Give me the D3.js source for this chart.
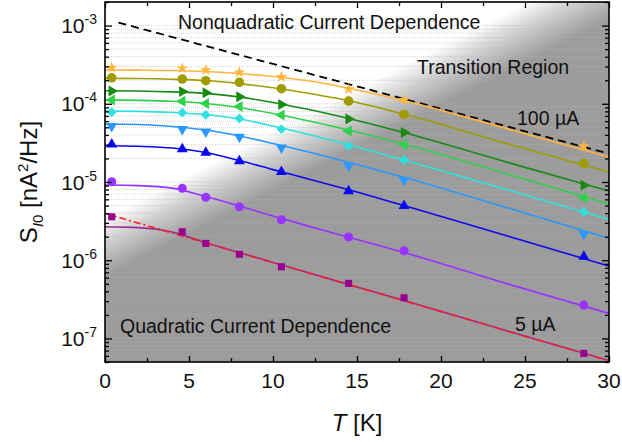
<!DOCTYPE html>
<html>
<head>
<meta charset="utf-8">
<script src="https://cdn.jsdelivr.net/npm/d3@7"></script>
<style>
  html, body { margin: 0; padding: 0; background: #fff; }
  svg { display: block; font-family: 'Liberation Sans', Arial, sans-serif; }
</style>
</head>
<body>
<svg id="chart" width="622" height="442"></svg>
<script>
// Current noise S_I0 vs temperature, one curve per bias current (5 µA .. 100 µA)
const tempsMeasured = [0.4, 4.6, 6, 8, 10.5, 14.5, 17.8, 28.5];
const tempsFit = [0, 2, 4, 6, 8, 10, 12, 15, 18, 24, 30];

// measured points, top curve (100 µA) to bottom curve (5 µA)
const ptsOrange = [2.89e-4, 2.84e-4, 2.70e-4, 2.52e-4, 2.20e-4, 1.54e-4, 1.12e-4, 2.88e-5];
const ptsOlive = [2.15e-4, 2.07e-4, 1.97e-4, 1.88e-4, 1.56e-4, 1.08e-4, 7.3e-5, 1.73e-5];
const ptsDarkGreen = [1.46e-4, 1.43e-4, 1.38e-4, 1.23e-4, 9.8e-5, 6.4e-5, 4.3e-5, 9.1e-6];
const ptsGreen = [1.12e-4, 1.08e-4, 1.01e-4, 9.2e-5, 7.2e-5, 4.5e-5, 3.0e-5, 6.3e-6];
const ptsCyan = [7.8e-5, 7.7e-5, 7.2e-5, 6.5e-5, 4.75e-5, 2.9e-5, 1.91e-5, 4.16e-6];
const ptsLightBlue = [5.19e-5, 4.75e-5, 4.39e-5, 3.78e-5, 2.74e-5, 1.61e-5, 1.06e-5, 2.16e-6];
const ptsBlue = [3.03e-5, 2.64e-5, 2.37e-5, 1.85e-5, 1.35e-5, 7.66e-6, 4.97e-6, 1.11e-6];
const ptsPurple = [1.01e-5, 8.3e-6, 6.37e-6, 4.82e-6, 3.29e-6, 1.98e-6, 1.32e-6, 2.67e-7];
const ptsMagenta = [3.59e-6, 2.31e-6, 1.64e-6, 1.19e-6, 8.24e-7, 5.06e-7, 3.31e-7, 6.44e-8];

// fitted curves, read at tempsFit
const fitOrange = [2.70e-4, 2.69e-4, 2.66e-4, 2.58e-4, 2.44e-4, 2.23e-4, 1.98e-4, 1.50e-4, 1.07e-4, 4.75e-5, 2.08e-5];
const fitOlive = [2.11e-4, 2.10e-4, 2.06e-4, 1.98e-4, 1.81e-4, 1.60e-4, 1.37e-4, 1.04e-4, 7.18e-5, 3.06e-5, 1.34e-5];
const fitDarkGreen = [1.47e-4, 1.455e-4, 1.42e-4, 1.36e-4, 1.22e-4, 1.04e-4, 8.56e-5, 6.10e-5, 4.16e-5, 1.77e-5, 7.66e-6];
const fitGreen = [1.12e-4, 1.106e-4, 1.075e-4, 1.01e-4, 8.95e-5, 7.50e-5, 6.10e-5, 4.35e-5, 2.97e-5, 1.26e-5, 5.22e-6];
const fitCyan = [8.07e-5, 8.0e-5, 7.73e-5, 7.28e-5, 6.38e-5, 5.19e-5, 4.10e-5, 2.80e-5, 1.85e-5, 7.89e-6, 3.31e-6];
const fitLightBlue = [5.51e-5, 5.43e-5, 5.12e-5, 4.61e-5, 3.87e-5, 3.10e-5, 2.45e-5, 1.67e-5, 1.12e-5, 4.64e-6, 1.90e-6];
const fitBlue = [2.91e-5, 2.86e-5, 2.72e-5, 2.38e-5, 1.88e-5, 1.44e-5, 1.11e-5, 7.43e-6, 4.85e-6, 2.03e-6, 8.41e-7];
const fitPurple = [9.14e-6, 9.0e-6, 8.36e-6, 6.51e-6, 4.92e-6, 3.67e-6, 2.77e-6, 1.84e-6, 1.22e-6, 4.95e-7, 2.09e-7];
const fitMagenta = [2.68e-6, 2.61e-6, 2.29e-6, 1.67e-6, 1.25e-6, 9.38e-7, 7.03e-7, 4.56e-7, 2.96e-7, 1.24e-7, 5.21e-8];

// guide lines
const limitTemps = [0.8, 30];
const limitValues = [1.09e-3, 2.3e-5];       // nonquadratic limit (black dashed)
const quadTemps = [0, 30];
const quadValues = [3.97e-6, 5.2e-8];        // quadratic fit of 5 µA (red dash-dot)

const xTickValues = [0, 5, 10, 15, 20, 25, 30];
const xMinorValues = [2.5, 7.5, 12.5, 17.5, 22.5, 27.5];
const yExponents = [-7, -6, -5, -4, -3];

(function () {
  'use strict';

  const svg = d3.select('#chart');
  const left = 105, right = 609, top = 2, bottom = 362;

  const x = d3.scaleLinear().domain([0, 30]).range([left, right]);
  const y = d3.scaleLog().domain([5e-8, 2e-3]).range([bottom, top]);

  const series = [
    { pts: ptsOrange, fit: fitOrange, color: '#ffb43c', sym: d3.symbolStar, size: 42, rot: 0 },
    { pts: ptsOlive, fit: fitOlive, color: '#a09c00', sym: d3.symbolCircle, size: 72, rot: 0 },
    { pts: ptsDarkGreen, fit: fitDarkGreen, color: '#178a12', sym: d3.symbolTriangle, size: 52, rot: 90 },
    { pts: ptsGreen, fit: fitGreen, color: '#2ed14a', sym: d3.symbolTriangle, size: 52, rot: -90 },
    { pts: ptsCyan, fit: fitCyan, color: '#2fe0e0', sym: d3.symbolSquare, size: 48, rot: 45 },
    { pts: ptsLightBlue, fit: fitLightBlue, color: '#2b97ff', sym: d3.symbolTriangle, size: 52, rot: 180 },
    { pts: ptsBlue, fit: fitBlue, color: '#0a0af0', sym: d3.symbolTriangle, size: 52, rot: 0 },
    { pts: ptsPurple, fit: fitPurple, color: '#9933ff', sym: d3.symbolCircle, size: 64, rot: 0 },
    { pts: ptsMagenta, fit: fitMagenta, color: '#980090', line: '#9a2d96', sym: d3.symbolSquare, size: 50, rot: 0 },
  ];

  const defs = svg.append('defs');

  // diagonal white -> gray shading (regions of current dependence)
  const grad = defs
    .append('linearGradient')
    .attr('id', 'regionShade')
    .attr('gradientUnits', 'userSpaceOnUse')
    .attr('x1', 288).attr('y1', 124)
    .attr('x2', 312).attr('y2', 171);
  grad.append('stop').attr('offset', 0).attr('stop-color', '#ffffff');
  grad.append('stop').attr('offset', 0.45).attr('stop-color', '#cdcdcd');
  grad.append('stop').attr('offset', 1).attr('stop-color', '#9c9c9c');

  defs
    .append('clipPath')
    .attr('id', 'plotClip')
    .append('rect')
    .attr('x', left).attr('y', top)
    .attr('width', right - left).attr('height', bottom - top);

  svg
    .append('rect')
    .attr('x', left).attr('y', top)
    .attr('width', right - left).attr('height', bottom - top)
    .attr('fill', 'url(#regionShade)');

  // dotted horizontal grid at every log tick
  const allTicks = y.ticks();
  svg
    .append('g')
    .selectAll('line')
    .data(allTicks)
    .enter()
    .append('line')
    .attr('x1', left).attr('x2', right)
    .attr('y1', (d) => y(d)).attr('y2', (d) => y(d))
    .attr('stroke', '#b4b4b4')
    .attr('stroke-opacity', 0.55)
    .attr('stroke-width', 1)
    .attr('stroke-dasharray', '1,1');

  const plot = svg.append('g').attr('clip-path', 'url(#plotClip)');

  const line = d3
    .line()
    .x((d) => x(d[0]))
    .y((d) => y(d[1]))
    .curve(d3.curveMonotoneX);

  const straight = d3.line().x((d) => x(d[0])).y((d) => y(d[1]));

  plot
    .append('path')
    .attr('d', straight(d3.zip(limitTemps, limitValues)))
    .attr('fill', 'none')
    .attr('stroke', '#000')
    .attr('stroke-width', 1.8)
    .attr('stroke-dasharray', '8,5');

  plot
    .selectAll('path.fit')
    .data(series)
    .enter()
    .append('path')
    .attr('class', 'fit')
    .attr('d', (s) => line(d3.zip(tempsFit, s.fit)))
    .attr('fill', 'none')
    .attr('stroke', (s) => s.line || s.color)
    .attr('stroke-width', 1.6);

  plot
    .append('path')
    .attr('d', straight(d3.zip(quadTemps, quadValues)))
    .attr('fill', 'none')
    .attr('stroke', '#ff1a1a')
    .attr('stroke-width', 1.6)
    .attr('stroke-dasharray', '7,3,2,3');

  // markers
  series.forEach((s) => {
    const sym = d3.symbol().type(s.sym).size(s.size)();
    plot
      .append('g')
      .selectAll('path')
      .data(d3.zip(tempsMeasured, s.pts))
      .enter()
      .append('path')
      .attr('d', sym)
      .attr('transform', (d) => `translate(${x(d[0])},${y(d[1])}) rotate(${s.rot})`)
      .attr('fill', s.color);
  });

  // annotations
  const notes = [
    { text: 'Nonquadratic Current Dependence', x: 178, y: 29 },
    { text: 'Transition Region', x: 417, y: 74 },
    { text: '100 µA', x: 517, y: 125 },
    { text: 'Quadratic Current Dependence', x: 120, y: 333 },
    { text: '5 µA', x: 515, y: 331 },
  ];
  svg
    .append('g')
    .selectAll('text')
    .data(notes)
    .enter()
    .append('text')
    .attr('x', (d) => d.x)
    .attr('y', (d) => d.y)
    .attr('font-size', 19.5)
    .attr('fill', '#111')
    .text((d) => d.text);

  // ticks (inward, on all four sides)
  const tickStyle = (g) => {
    g.select('.domain').remove();
    g.selectAll('.tick line').attr('stroke', '#000').attr('stroke-width', 1.3);
  };
  const yMajor = yExponents.map((e) => Math.pow(10, e));
  const yMinor = allTicks.filter((v) => !yMajor.some((m) => Math.abs(v / m - 1) < 1e-6));

  svg.append('g').attr('transform', `translate(0,${bottom})`)
    .call(d3.axisBottom(x).tickValues(xTickValues).tickSize(-6).tickFormat('')).call(tickStyle);
  svg.append('g').attr('transform', `translate(0,${bottom})`)
    .call(d3.axisBottom(x).tickValues(xMinorValues).tickSize(-4).tickFormat('')).call(tickStyle);
  svg.append('g').attr('transform', `translate(0,${top})`)
    .call(d3.axisTop(x).tickValues(xTickValues).tickSize(-6).tickFormat('')).call(tickStyle);
  svg.append('g').attr('transform', `translate(0,${top})`)
    .call(d3.axisTop(x).tickValues(xMinorValues).tickSize(-4).tickFormat('')).call(tickStyle);
  svg.append('g').attr('transform', `translate(${left},0)`)
    .call(d3.axisLeft(y).tickValues(yMajor).tickSize(-7).tickFormat('')).call(tickStyle);
  svg.append('g').attr('transform', `translate(${left},0)`)
    .call(d3.axisLeft(y).tickValues(yMinor).tickSize(-4).tickFormat('')).call(tickStyle);
  svg.append('g').attr('transform', `translate(${right},0)`)
    .call(d3.axisRight(y).tickValues(yMajor).tickSize(-7).tickFormat('')).call(tickStyle);
  svg.append('g').attr('transform', `translate(${right},0)`)
    .call(d3.axisRight(y).tickValues(yMinor).tickSize(-4).tickFormat('')).call(tickStyle);

  // frame
  svg
    .append('rect')
    .attr('x', left).attr('y', top)
    .attr('width', right - left).attr('height', bottom - top)
    .attr('fill', 'none')
    .attr('stroke', '#000')
    .attr('stroke-width', 1.6);

  // x tick labels
  svg
    .append('g')
    .selectAll('text')
    .data(xTickValues)
    .enter()
    .append('text')
    .attr('x', (d) => x(d))
    .attr('y', 388)
    .attr('text-anchor', 'middle')
    .attr('font-size', 21)
    .attr('fill', '#111')
    .text((d) => d);

  // y tick labels 10^n
  const yLab = svg
    .append('g')
    .selectAll('text')
    .data(yExponents)
    .enter()
    .append('text')
    .attr('x', 97)
    .attr('y', (d) => y(Math.pow(10, d)) + 7.5)
    .attr('text-anchor', 'end')
    .attr('font-size', 21)
    .attr('fill', '#111');
  yLab.append('tspan').text('10');
  yLab.append('tspan').attr('dy', -9).attr('font-size', 14).text((d) => String(d));

  // axis titles
  const xt = svg
    .append('text')
    .attr('x', x(15))
    .attr('y', 431)
    .attr('text-anchor', 'middle')
    .attr('font-size', 24)
    .attr('fill', '#111');
  xt.append('tspan').attr('font-style', 'italic').text('T');
  xt.append('tspan').text(' [K]');

  const yt = svg
    .append('text')
    .attr('transform', `translate(37,${(top + bottom) / 2}) rotate(-90)`)
    .attr('text-anchor', 'middle')
    .attr('font-size', 24)
    .attr('fill', '#111');
  yt.append('tspan').text('S');
  yt.append('tspan').attr('dy', 6).attr('font-size', 15).attr('font-style', 'italic').text('I');
  yt.append('tspan').attr('font-size', 15).text('0');
  yt.append('tspan').attr('dy', -6).text(' [nA');
  yt.append('tspan').attr('dy', -9).attr('font-size', 15).text('2');
  yt.append('tspan').attr('dy', 9).text('/Hz]');
})();
</script>
</body>
</html>
